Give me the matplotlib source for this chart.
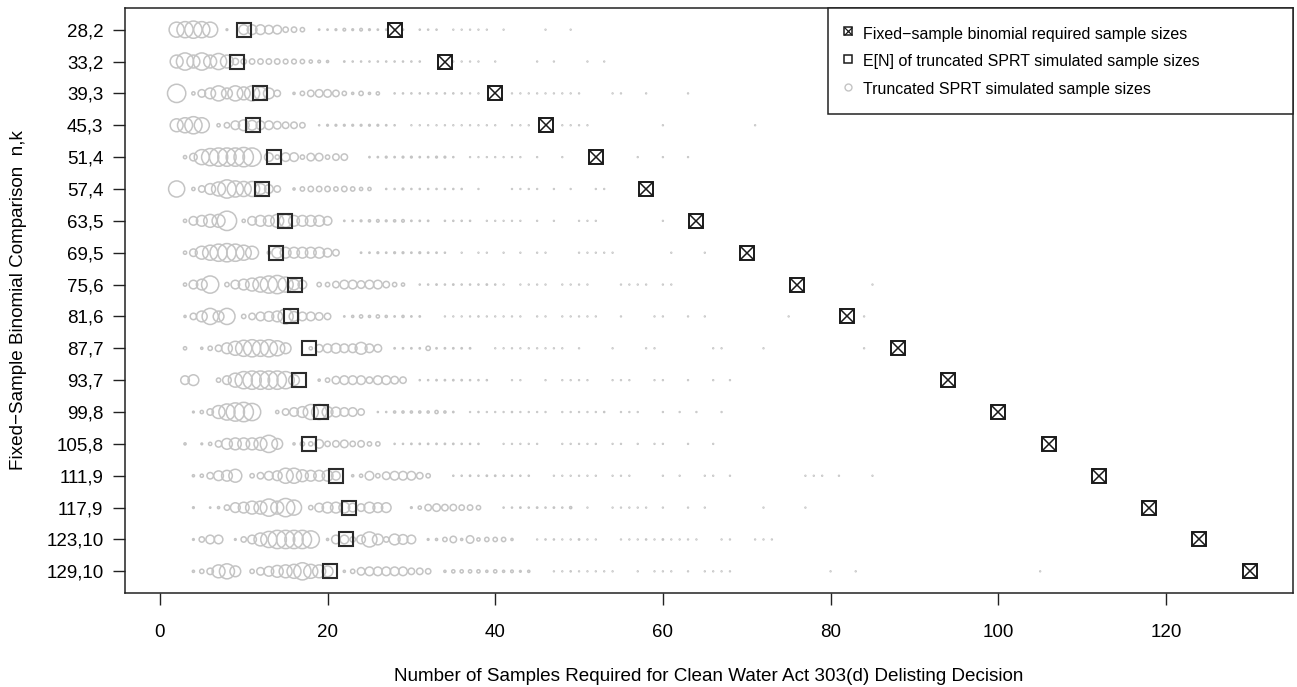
import matplotlib
matplotlib.use("Agg")
import matplotlib.pyplot as plt
from matplotlib.lines import Line2D
import numpy as np

plt.rcParams['font.family'] = ['Liberation Sans', 'DejaVu Sans']

# ---------------- data ----------------
row_labels = ["28,2", "33,2", "39,3", "45,3", "51,4", "57,4", "63,5", "69,5", "75,6",
              "81,6", "87,7", "93,7", "99,8", "105,8", "111,9", "117,9", "123,10", "129,10"]
fixed_sample_size = [28, 34, 40, 46, 52, 58, 64, 70, 76, 82, 88, 94, 100, 106, 112,
                     118, 124, 130]
expected_n = [10.0, 9.2, 11.95, 11.05, 13.65, 12.15, 14.9, 13.85, 16.1,
              15.7, 17.8, 16.6, 19.2, 17.8, 21.0, 22.55, 22.15, 20.35]

# relative frequency (%) of simulated SPRT sample sizes, index 0 -> N = 1
freq_28_2 = [0, 7, 7.5, 8, 7.5, 7, 0, 0.8, 0, 4.5, 4.5, 4.5, 4, 4, 2.5, 2.5, 2, 0,
             0.6, 0.6, 0.8, 1.2, 0.8, 1.2, 0.8, 0.6, 0.6, 0.6, 0.6, 0, 0.5, 0.5, 0.5, 0,
             0.4, 0.4, 0.4, 0.4, 0.4, 0, 0.4, 0, 0, 0, 0, 0.4, 0, 0, 0.4]
freq_33_2 = [0, 6, 8, 6, 8, 6, 7.5, 6, 3, 2.5, 2.5, 2.5, 2.5, 2.5, 2.2, 2.2, 2, 1.5,
             1.2, 1, 0, 0.6, 0.5, 0.5, 0.5, 0.5, 0.5, 0.5, 0.5, 0.5, 0.5, 0, 0, 0,
             0.4, 0.4, 0.4, 0.4, 0, 0.4, 0, 0, 0, 0, 0.4, 0, 0.4, 0, 0, 0, 0.4, 0, 0.4]
freq_39_3 = [0, 8.5, 0, 1.5, 3.5, 5, 7, 5, 7, 6, 7, 6, 5, 3, 0, 1, 2, 3, 3.5, 3.5,
             3, 2, 1, 2, 1, 1.5, 0, 0.5, 0.5, 0.5, 0.5, 0.5, 0.5, 0.5, 0.5, 0.5, 0.4,
             0.4, 0, 0, 0, 0.4, 0.4, 0.4, 0.4, 0.4, 0.4, 0.4, 0.4, 0.4, 0, 0, 0, 0.4,
             0.4, 0, 0, 0.4, 0, 0, 0, 0, 0.4]
freq_45_3 = [0, 6, 7, 8, 7, 0, 1.5, 2.5, 4, 5, 4.5, 4, 4, 3.5, 3, 3, 2.5, 0, 0.5,
             0.8, 0.8, 0.8, 0.8, 0.8, 0.8, 0.8, 0.6, 0.5, 0, 0.4, 0.4, 0.4, 0.4, 0.4,
             0.4, 0.4, 0.4, 0.4, 0.4, 0.4, 0, 0.4, 0.4, 0.4, 0, 0, 0, 0.4, 0.4, 0.4,
             0.4, 0, 0, 0, 0, 0, 0, 0, 0, 0.4, 0, 0, 0, 0, 0, 0, 0, 0, 0, 0, 0.4]
freq_51_4 = [0, 0, 1.5, 3.5, 7, 8, 8.5, 8.5, 8.5, 9, 8.5, 0, 4, 2, 4, 4, 2, 3.5, 3.5,
             2, 3, 3, 0, 0, 0.6, 0.6, 0.8, 0.6, 0.8, 0.8, 0.6, 0.6, 0.8, 0.8, 0.5, 0,
             0.4, 0.4, 0.4, 0.4, 0.4, 0.4, 0.4, 0, 0.4, 0, 0, 0.4, 0, 0, 0, 0, 0, 0,
             0, 0, 0.4, 0, 0, 0.4, 0, 0, 0.4]
freq_57_4 = [0, 7.5, 0, 1.5, 3, 5, 6.5, 8.5, 7.5, 7, 7, 5, 4, 3, 0, 1, 2, 2.5, 2.5,
             2.5, 2, 2.5, 2, 1.5, 1.5, 0, 0.5, 0.5, 0.8, 0.5, 0.5, 0.5, 0.5, 0.5, 0.5,
             0.5, 0, 0.4, 0, 0, 0, 0.4, 0.4, 0.4, 0.4, 0, 0.4, 0, 0.4, 0, 0, 0.4, 0.4]
freq_63_5 = [0, 0, 1.5, 4, 5, 6, 6, 9, 0, 1.5, 4, 5, 5, 6, 6, 5, 5, 5, 5, 4, 0, 0.6,
             0.6, 0.8, 1, 1.2, 0.8, 1, 1.2, 0.6, 0.6, 0.6, 0, 0.5, 0.5, 0.5, 0.5, 0,
             0.4, 0.4, 0.4, 0.4, 0.4, 0, 0.4, 0, 0.4, 0, 0, 0.4, 0.4, 0.4, 0, 0, 0, 0,
             0, 0, 0, 0.4]
freq_69_5 = [0, 0, 1.5, 3.5, 6, 7, 8, 8.5, 8, 7, 6, 0, 1.5, 5, 5, 5, 5, 5, 5, 4, 3,
             0, 0, 0.6, 0.6, 0.8, 0.6, 0.8, 0.8, 0.6, 0.8, 0.6, 0.6, 0.5, 0, 0.4, 0,
             0.4, 0.4, 0, 0.4, 0, 0.4, 0, 0.4, 0.4, 0, 0, 0, 0.4, 0.4, 0.4, 0.4, 0.4,
             0, 0, 0, 0, 0, 0, 0.4, 0, 0, 0, 0.4]
freq_75_6 = [0, 0, 1.5, 4, 5, 8, 0, 2, 4, 5, 6, 7, 8, 8.5, 7, 5, 4, 0, 2, 2, 3, 4, 4,
             3.5, 4, 4, 3, 2, 1.5, 0, 0.5, 0.5, 0.6, 0.5, 0.6, 0.5, 0.5, 0.5, 0.6,
             0.5, 0.4, 0, 0.4, 0.4, 0.4, 0.4, 0, 0.4, 0.4, 0.4, 0.4, 0, 0, 0, 0.4, 0.4,
             0.4, 0.4, 0, 0.4, 0.4, 0, 0, 0, 0, 0, 0, 0, 0, 0, 0, 0, 0, 0, 0, 0, 0, 0,
             0, 0, 0, 0, 0, 0, 0.4]
freq_81_6 = [0, 0, 1, 3, 5, 7.5, 5, 7.5, 0, 2, 3, 4, 4.5, 5, 7, 4.5, 4, 4, 3.5, 3, 0,
             0.6, 1, 1.5, 1, 1.5, 1, 0.6, 1, 0.6, 0.6, 0, 0, 0.4, 0.4, 0.4, 0.4, 0.5,
             0.4, 0.4, 0.4, 0.4, 0.4, 0, 0.4, 0.4, 0, 0.4, 0.4, 0.4, 0.4, 0.4, 0, 0,
             0.4, 0, 0, 0, 0.4, 0.4, 0, 0, 0.4, 0, 0.4, 0, 0, 0, 0, 0, 0, 0, 0, 0, 0.4,
             0, 0, 0, 0, 0, 0, 0, 0, 0.4]
freq_87_7 = [0, 0, 1.5, 0, 1, 2, 3, 5, 6.5, 7.5, 8, 7.5, 8, 7, 5, 0, 0, 1.5, 3.5, 4,
             4.5, 4, 4, 5.5, 4, 3.5, 0, 0.6, 0.6, 0.6, 0.6, 2, 0.6, 0.6, 0.6, 0.6, 0.6,
             0, 0, 0.4, 0.4, 0.4, 0.4, 0.4, 0.4, 0.4, 0.4, 0.4, 0, 0.4, 0, 0, 0, 0.4,
             0, 0, 0, 0.4, 0.4, 0, 0, 0, 0, 0, 0, 0.4, 0.4, 0, 0, 0, 0, 0.4, 0, 0, 0, 0,
             0, 0, 0, 0, 0, 0, 0, 0.4]
freq_93_7 = [0, 0, 4, 5, 0, 0, 2, 4, 6.5, 8, 8.5, 8.5, 8.5, 8.5, 8, 5, 0, 0, 1, 2,
             3.5, 4, 4, 4, 3, 4, 4, 3.5, 3, 0, 0.5, 0.5, 0.6, 0.6, 0.6, 0.6, 0.5, 0.5,
             0.5, 0, 0, 0.4, 0.4, 0, 0, 0.4, 0, 0.4, 0.4, 0.4, 0.4, 0, 0, 0.4, 0.4,
             0.4, 0, 0, 0.4, 0.4, 0, 0, 0.4, 0, 0, 0.4, 0, 0.4]
freq_99_8 = [0, 0, 0, 0.8, 1.5, 3, 6, 7.5, 8.5, 9, 8, 0, 0, 1.5, 3, 4, 5, 7, 7, 5,
             4.5, 4, 4, 3, 0, 0.5, 0.5, 1, 1, 1, 1, 1, 1.5, 1, 0.6, 0, 0.4, 0.5, 0.4,
             0.4, 0.4, 0.5, 0.4, 0.4, 0.4, 0.4, 0, 0.4, 0.4, 0.4, 0.4, 0.4, 0.5, 0,
             0.4, 0.4, 0.4, 0, 0, 0.4, 0, 0.4, 0, 0.4, 0, 0, 0.4]
freq_105_8 = [0, 0, 1, 0, 0.8, 1.5, 3, 5, 5.5, 5.5, 5.5, 6, 8, 5, 0, 1, 2, 2, 4, 2.5,
              3, 3.5, 2.5, 3, 2, 2, 0, 0.5, 0.5, 0.6, 0.6, 0.6, 0.6, 0.6, 0.6, 0.5,
              0.5, 0.5, 0, 0, 0.4, 0.4, 0.4, 0.4, 0.4, 0, 0, 0.4, 0.4, 0.4, 0.4, 0.4,
              0, 0.4, 0.4, 0, 0.4, 0, 0.4, 0.4, 0, 0, 0.4, 0, 0, 0.4]
freq_111_9 = [0, 0, 0, 1, 1.5, 3, 4.5, 5, 6, 0, 2, 3, 4, 4.5, 7, 7, 5.5, 5, 5, 5, 4,
              0, 1, 1.5, 4, 2, 3.5, 4, 4, 4, 3, 2, 0, 0, 0.5, 0.5, 0.6, 0.5, 0.6, 0.6,
              0.5, 0.5, 0.5, 0.5, 0, 0, 0.4, 0.4, 0.4, 0.4, 0.4, 0.4, 0, 0.4, 0.4, 0.4,
              0, 0, 0, 0.4, 0, 0.4, 0, 0, 0.4, 0.4, 0, 0.4, 0, 0, 0, 0, 0, 0, 0, 0,
              0.4, 0.4, 0.4, 0, 0.4, 0, 0, 0, 0.4]
freq_117_9 = [0, 0, 0, 0.8, 0, 0.6, 1, 2.5, 4.5, 5, 6, 6, 8, 6, 8.5, 7, 0, 2, 4, 5,
              5, 5, 4, 3.5, 5, 4.5, 4.5, 0, 0, 0.8, 1.5, 3, 3.5, 3, 3, 2.5, 2.5, 2, 0,
              0, 0.5, 0.5, 0.6, 0.5, 0.6, 0.5, 0.6, 0.5, 1, 0, 0.4, 0, 0, 0.4, 0.4,
              0.4, 0.4, 0.4, 0, 0.4, 0, 0, 0.4, 0, 0.4, 0, 0, 0, 0, 0, 0, 0.4, 0, 0,
              0, 0, 0.4]
freq_123_10 = [0, 0, 0, 0.8, 2.5, 4, 4, 0, 0.8, 2.5, 4, 6, 7.5, 8.5, 8.5, 8.5, 8.5,
               8, 0, 1, 4, 4, 2.5, 4, 7, 5, 2.5, 5, 4.5, 4, 0, 0.8, 1, 2, 3, 1, 3.5,
               1.5, 2, 2, 2, 1, 0, 0, 0.4, 0.5, 0.5, 0.4, 0.4, 0.6, 0.4, 0.4, 0, 0,
               0.4, 0.4, 0.4, 0.5, 0.4, 0.6, 0.4, 0.4, 0.4, 0.4, 0, 0, 0.4, 0.4, 0, 0,
               0.4, 0.4, 0.4]
freq_129_10 = [0, 0, 0, 1, 2, 3, 6, 7, 5, 0, 2, 3.5, 4.5, 5.5, 6, 6.5, 8, 6.5, 6, 5,
               0, 1, 2, 3.5, 4, 4, 4, 4, 4, 3, 3, 2.5, 0, 1, 1.5, 1.5, 1.5, 1.5, 1,
               1.5, 1, 1.2, 0.8, 1, 0, 0, 0.4, 0.4, 0.5, 0.4, 0.4, 0.4, 0.4, 0.4, 0, 0,
               0.4, 0, 0.4, 0.4, 0.4, 0, 0.4, 0, 0.4, 0.4, 0.4, 0.4, 0, 0, 0, 0, 0, 0,
               0, 0, 0, 0, 0, 0.4, 0, 0, 0.4, 0, 0, 0, 0, 0, 0, 0, 0, 0, 0, 0, 0, 0, 0,
               0, 0, 0, 0, 0, 0, 0, 0.4]

all_freqs = [freq_28_2, freq_33_2, freq_39_3, freq_45_3, freq_51_4, freq_57_4,
             freq_63_5, freq_69_5, freq_75_6, freq_81_6, freq_87_7, freq_93_7,
             freq_99_8, freq_105_8, freq_111_9, freq_117_9, freq_123_10, freq_129_10]

xlabel = "Number of Samples Required for Clean Water Act 303(d) Delisting Decision"
ylabel = "Fixed\u2212Sample Binomial Comparison  n,k"
legend_labels = ["Fixed\u2212sample binomial required sample sizes",
                 "E[N] of truncated SPRT simulated sample sizes",
                 "Truncated SPRT simulated sample sizes"]

# ---------------- figure ----------------
W, H = 1297, 687
fig = plt.figure(figsize=(W / 100, H / 100), dpi=100)
ax = fig.add_axes([125 / W, 1 - 593 / H, 1168 / W, 585 / H])

circle_col = "#c4c4c4"
px2pt = 0.72
for i, fr in enumerate(all_freqs):
    fr = np.asarray(fr, dtype=float)
    xs = np.arange(1, len(fr) + 1)
    m = fr > 0
    diam_pt = 2.15 * fr[m] * px2pt
    ax.scatter(xs[m], np.full(m.sum(), i + 1), s=diam_pt ** 2, facecolors="none",
               edgecolors=circle_col, linewidths=1.1, zorder=2)

ypos = np.arange(1, len(row_labels) + 1)
ax.plot(expected_n, ypos, linestyle="none", marker="s", markersize=10,
        markerfacecolor="none", markeredgecolor="#2b2b2b", markeredgewidth=1.5, zorder=3)
ax.plot(fixed_sample_size, ypos, linestyle="none", marker="s", markersize=9.5,
        markerfacecolor="none", markeredgecolor="#1a1a1a", markeredgewidth=1.4, zorder=3)
ax.plot(fixed_sample_size, ypos, linestyle="none", marker="x", markersize=9.5,
        markeredgecolor="#1a1a1a", markeredgewidth=1.1, zorder=3)

xmin, xmax = 1, max(fixed_sample_size)
ext = 0.04 * (xmax - xmin)
ax.set_xlim(xmin - ext, xmax + ext)
ax.set_ylim(len(row_labels) + 0.68, 0.32)
ax.set_xticks([0, 20, 40, 60, 80, 100, 120])
ax.set_yticks(ypos)
ax.set_yticklabels(row_labels)
ax.tick_params(axis="both", direction="out", length=8.5, width=1.0, color="#222222",
               labelsize=13.5)
ax.tick_params(axis="x", pad=14)
ax.tick_params(axis="y", pad=7)
for sp in ax.spines.values():
    sp.set_linewidth(1.1)
    sp.set_color("#222222")

ax.set_xlabel(xlabel, fontsize=13.6, labelpad=19)
ax.set_ylabel(ylabel, fontsize=13.6, labelpad=14)

# legend
h_fixed = (Line2D([], [], linestyle="none", marker="s", markersize=5.5,
                  markerfacecolor="none", markeredgecolor="#1a1a1a", markeredgewidth=1.1),
           Line2D([], [], linestyle="none", marker="x", markersize=5.5,
                  markeredgecolor="#1a1a1a", markeredgewidth=0.9))
h_en = Line2D([], [], linestyle="none", marker="s", markersize=5.5,
              markerfacecolor="none", markeredgecolor="#1a1a1a", markeredgewidth=1.1)
h_sim = Line2D([], [], linestyle="none", marker="o", markersize=5,
               markerfacecolor="none", markeredgecolor=circle_col, markeredgewidth=1.0)
x0 = (828 - 125) / 1168
leg = ax.legend([h_fixed, h_en, h_sim], legend_labels, loc="upper left",
                bbox_to_anchor=(x0, 0, 1 - x0, 1), mode="expand", borderaxespad=0,
                fontsize=11.5, frameon=True, fancybox=False, framealpha=1,
                edgecolor="#222222", handlelength=0.5, handleheight=1.45,
                handletextpad=0.69, borderpad=1.0, labelspacing=0.55)
leg.get_frame().set_linewidth(1.1)

fig.savefig("out.png", dpi=100)
